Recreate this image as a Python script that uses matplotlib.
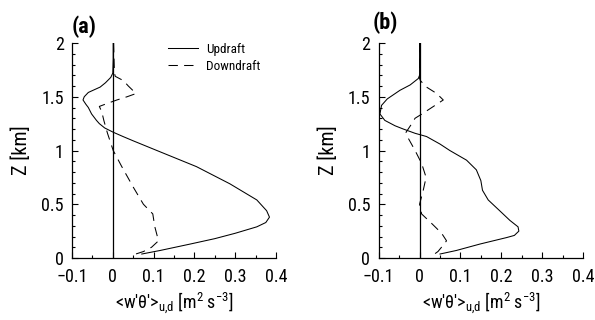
import matplotlib
matplotlib.use("Agg")
import matplotlib.pyplot as plt
from matplotlib.ticker import MultipleLocator

FONT = ['Roboto Condensed', 'Liberation Sans', 'DejaVu Sans']
plt.rcParams['font.family'] = FONT
plt.rcParams['mathtext.fontset'] = 'custom'
plt.rcParams['mathtext.rm'] = 'Roboto Condensed'
plt.rcParams['mathtext.it'] = 'Roboto Condensed:italic'

# Panel (a)
up_a_z = [2.0, 1.85, 1.72, 1.68, 1.63, 1.59, 1.54, 1.50, 1.47, 1.43, 1.40, 1.34, 1.28, 1.25, 1.21,
          1.17, 1.13, 1.09, 1.0, 0.85, 0.69, 0.54, 0.44, 0.38, 0.33, 0.29, 0.23, 0.18, 0.13, 0.07, 0.037]
up_a_x = [0.001, 0.001, 0.0, -0.005, -0.018, -0.031, -0.06, -0.07, -0.073, -0.066, -0.06, -0.052, -0.04,
          -0.033, -0.02, 0.001, 0.025, 0.05, 0.108, 0.205, 0.287, 0.353, 0.377, 0.384, 0.375, 0.353,
          0.30, 0.25, 0.19, 0.116, 0.071]
dn_a_z = [2.0, 1.85, 1.72, 1.69, 1.65, 1.60, 1.53, 1.50, 1.47, 1.44, 1.41, 1.36, 1.28, 1.16, 1.0,
          0.85, 0.66, 0.5, 0.41, 0.29, 0.16, 0.10, 0.06, 0.028]
dn_a_x = [0.002, 0.003, 0.004, 0.006, 0.026, 0.038, 0.057, 0.035, 0.01, -0.012, -0.033, -0.027,
          -0.022, -0.013, 0.001, 0.022, 0.05, 0.075, 0.098, 0.103, 0.112, 0.095, 0.075, 0.049]

# Panel (b)
up_b_z = [2.0, 1.85, 1.70, 1.67, 1.61, 1.56, 1.48, 1.42, 1.34, 1.28, 1.23, 1.20, 1.16, 1.13, 1.06,
          1.0, 0.91, 0.82, 0.72, 0.63, 0.54, 0.44, 0.35, 0.29, 0.25, 0.21, 0.19, 0.13, 0.07, 0.037]
up_b_x = [0.0, 0.0, 0.0, -0.003, -0.023, -0.048, -0.079, -0.093, -0.097, -0.085, -0.06, -0.04, -0.011,
          0.017, 0.05, 0.074, 0.115, 0.139, 0.15, 0.154, 0.168, 0.196, 0.221, 0.241, 0.243, 0.232,
          0.213, 0.148, 0.09, 0.05]
dn_b_z = [2.0, 1.8, 1.67, 1.65, 1.59, 1.53, 1.47, 1.42, 1.34, 1.30, 1.25, 1.17, 1.13, 1.0, 0.88,
          0.75, 0.63, 0.5, 0.41, 0.32, 0.23, 0.16, 0.12, 0.06, 0.03]
dn_b_x = [0.0, 0.0, 0.0, 0.002, 0.017, 0.042, 0.058, 0.038, 0.006, -0.011, -0.019, -0.033, -0.03,
          -0.011, 0.005, 0.016, 0.009, 0.0, 0.005, 0.03, 0.054, 0.066, 0.058, 0.045, 0.034]

panel_labels = ['(a)', '(b)']
legend_labels = ['Updraft', 'Downdraft']
xticks = [-0.1, 0, 0.1, 0.2, 0.3, 0.4]
xticklabels = ['\u22120.1', '0', '0.1', '0.2', '0.3', '0.4']
yticks = [0, 0.5, 1, 1.5, 2]
yticklabels = ['0', '0.5', '1', '1.5', '2']

W, H = 595, 320
fig = plt.figure(figsize=(W / 100, H / 100), dpi=100)

axes_px = [(72, 43, 276, 258), (378.7, 43, 583, 258)]
label_pos = [(72, 27), (373, 23)]
data = [(up_a_x, up_a_z, dn_a_x, dn_a_z), (up_b_x, up_b_z, dn_b_x, dn_b_z)]

for i, (l, t, r, b) in enumerate(axes_px):
    ax = fig.add_axes([l / W, 1 - b / H, (r - l) / W, (b - t) / H])
    ux, uz, dx, dz = data[i]
    ax.axvline(0, color='black', lw=0.9)
    ax.plot(ux, uz, color='black', lw=0.75, label=legend_labels[0])
    ax.plot(dx, dz, color='black', lw=0.75, linestyle=(0, (9, 6)), label=legend_labels[1])
    ax.set_xlim(-0.1, 0.4)
    ax.set_ylim(0, 2)
    for s in ['top', 'right']:
        ax.spines[s].set_visible(False)
    for s in ['left', 'bottom']:
        ax.spines[s].set_linewidth(0.9)
    ax.set_xticks(xticks)
    ax.set_xticklabels(xticklabels)
    ax.set_yticks(yticks)
    ax.set_yticklabels(yticklabels)
    ax.xaxis.set_minor_locator(MultipleLocator(0.05))
    ax.yaxis.set_minor_locator(MultipleLocator(0.1))
    ax.tick_params(which='major', direction='in', length=4.5, width=0.8, labelsize=13)
    ax.tick_params(axis='x', which='major', pad=7.5)
    ax.tick_params(axis='y', which='major', pad=6)
    ax.tick_params(which='minor', direction='in', length=2.5, width=0.8)
    ax.set_xlabel("<w'\u03b8'>$_{\\mathrm{u{,}d}}$ [m$^{2}$ s$^{-3}$]", fontsize=13, labelpad=3)
    ax.set_ylabel('Z [km]', fontsize=14.5, labelpad=7)
    fig.text(label_pos[i][0] / W, 1 - label_pos[i][1] / H, panel_labels[i], fontsize=16,
             fontweight='bold', ha='left', va='center')
    if i == 0:
        ax.legend(loc='upper left', bbox_to_anchor=(0.47, 1.0), frameon=False, fontsize=9.5,
                  borderpad=0, borderaxespad=0, handlelength=2.3, handletextpad=0.6,
                  labelspacing=0.3)

fig.savefig('out.png', dpi=100)
